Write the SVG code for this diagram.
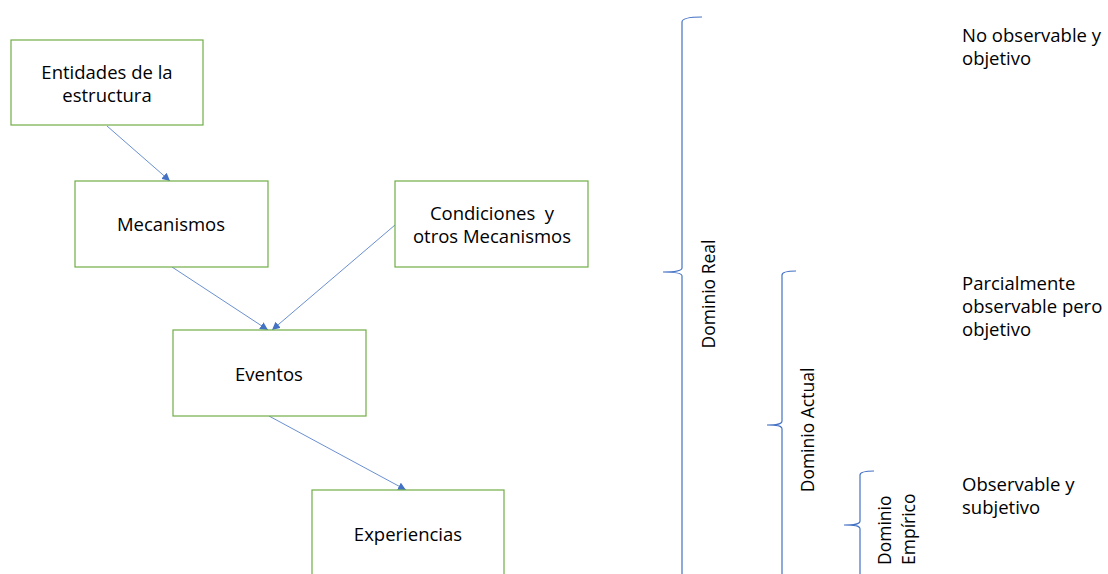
<svg xmlns="http://www.w3.org/2000/svg" width="1108" height="574" viewBox="0 0 1108 574">
<defs>
<style>
.box{fill:#fff;stroke:#70AD47;stroke-width:1.2}
.t{font-family:"Open Sans","Noto Sans",sans-serif;font-size:18.5px;fill:#000}
.r{font-size:17.5px}
.c{text-anchor:middle}
.pre{white-space:pre}
.ln{stroke:#4472C4;stroke-width:0.8;fill:none}
.br{stroke:#4472C4;stroke-width:1.2;fill:none}
</style>
<marker id="ah" viewBox="0 0 10 10" refX="10" refY="5" markerWidth="8" markerHeight="8" markerUnits="userSpaceOnUse" orient="auto">
<path d="M0,0 L10,5 L0,10 Z" fill="#4472C4"/>
</marker>
</defs>
<rect width="1108" height="574" fill="#fff"/>
<g id="connectors">
<line class="ln" x1="107" y1="126" x2="170" y2="181" marker-end="url(#ah)"/>
<line class="ln" x1="172" y1="267" x2="268" y2="330" marker-end="url(#ah)"/>
<line class="ln" x1="395" y1="225" x2="272" y2="330" marker-end="url(#ah)"/>
<line class="ln" x1="269" y1="416" x2="406" y2="490" marker-end="url(#ah)"/>
</g>
<g id="n1"><rect class="box" x="11" y="40" width="192" height="85"/><text class="t c" x="107" y="79">Entidades de la</text><text class="t c" x="107" y="102">estructura</text></g>
<g id="n2"><rect class="box" x="75" y="181" width="193" height="86"/><text class="t c" x="171" y="231">Mecanismos</text></g>
<g id="n3"><rect class="box" x="395" y="181" width="193" height="86"/><text class="t c pre" x="492" y="220" xml:space="preserve">Condiciones  y</text><text class="t c" x="492" y="243">otros Mecanismos</text></g>
<g id="n4"><rect class="box" x="173" y="330" width="193" height="86"/><text class="t c" x="269" y="381">Eventos</text></g>
<g id="n5"><rect class="box" x="312" y="490" width="192" height="100"/><text class="t c" x="408" y="541">Experiencias</text></g>
<g id="braces">
<path class="br" d="M702,17 C690,17 682,18 682,22 L682,268 C682,271 676,272 663,272 C676,272 682,273 682,276 L682,574"/>
<path class="br" d="M796,271 C788,271 782,272 782,275 L782,421 C782,424 778,425 767,425 C778,425 782,426 782,429 L782,574"/>
<path class="br" d="M874,471 C866,471 860,472 860,475 L860,521 C860,524 856,525 844,525 C856,525 860,526 860,529 L860,574"/>
</g>
<g id="domain-labels">
<text class="t r c" transform="translate(715,294) rotate(-90)">Dominio Real</text>
<text class="t r c" transform="translate(814,430) rotate(-90)">Dominio Actual</text>
<text class="t r" transform="translate(891,565) rotate(-90)">Dominio</text>
<text class="t r" transform="translate(915,565) rotate(-90)">Empírico</text>
</g>
<g id="notes">
<text class="t" x="962" y="42">No observable y</text>
<text class="t" x="962" y="65">objetivo</text>
<text class="t" x="962" y="290">Parcialmente</text>
<text class="t" x="962" y="313">observable pero</text>
<text class="t" x="962" y="336">objetivo</text>
<text class="t" x="962" y="491">Observable y</text>
<text class="t" x="962" y="514">subjetivo</text>
</g>
</svg>
